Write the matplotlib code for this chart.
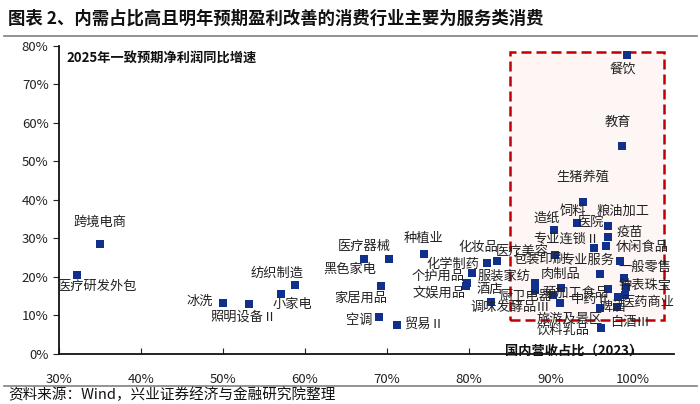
import matplotlib
matplotlib.use("Agg")
import matplotlib.pyplot as plt
from matplotlib.patches import Rectangle
from matplotlib.ticker import FuncFormatter

plt.rcParams['font.family'] = ['Noto Sans CJK SC', 'DejaVu Sans']

# 行业：国内营收占比(2023, %)，2025年一致预期净利润同比增速(%)
industries = [
    '医疗研发外包', '跨境电商', '冰洗', '照明设备Ⅱ', '小家电', '纺织制造',
    '黑色家电', '医疗器械', '家居用品', '空调', '贸易Ⅱ', '种植业',
    '化学制药', '个护用品', '文娱用品', '化妆品', '医疗美容', '酒店',
    '调味发酵品Ⅲ', '服装家纺', '肉制品', '预加工食品', '厨卫电器', '旅游及景区',
    '专业服务', '一般零售', '钟表珠宝', '中药Ⅱ', '啤酒', '医药商业',
    '白酒Ⅲ', '饮料乳品', '包装印刷', '休闲食品', '专业连锁Ⅱ', '疫苗',
    '粮油加工', '医院', '饲料', '造纸', '生猪养殖', '餐饮', '教育',
]
domestic_share = [
    32.2, 35.0, 50.0, 53.2, 57.1, 58.8,
    67.2, 70.2, 69.3, 69.0, 71.2, 74.5,
    80.4, 79.8, 79.6, 82.2, 83.4, 82.7,
    88.0, 88.0, 91.2, 97.0, 90.2, 91.1,
    96.0, 98.9, 99.1, 96.0, 98.2, 99.0,
    98.0, 96.1, 90.5, 98.4, 95.2, 96.7,
    97.0, 97.0, 93.2, 90.4, 93.9, 99.3, 98.7,
]
profit_growth = [
    20.6, 28.6, 13.3, 13.0, 15.6, 18.0,
    24.7, 24.7, 17.7, 9.6, 7.6, 26.0,
    21.1, 18.5, 17.7, 23.7, 24.2, 13.5,
    16.7, 18.5, 17.2, 16.9, 15.4, 13.3,
    20.8, 19.8, 17.4, 12.0, 14.8, 15.4,
    12.2, 6.8, 25.8, 24.2, 27.6, 28.1,
    30.5, 33.3, 33.9, 32.3, 39.6, 77.6, 53.9,
]
# label offsets (pixels) relative to the point
label_dx = [
    20, 0, -23, -6, 11, -18,
    -14, -24, -21, -20, 27, 0,
    -19, -29, -27, -9, 25, -1,
    -24, -31, 0, -33, -27, 10,
    -13, 21, 19, -10, -6, 23,
    13, -38, -15, 22, -27, 24,
    15, -17, -4, -8, 0, -5, -5,
]
label_dy = [
    -12, 22, 1, -13, -11, 11,
    -11, 12, -12, -3, 1, 15,
    8, 6, -7, 15, 10, 13,
    -18, 6, 13, -4, -2, -17,
    14, 10, 2, 8, -10, -8,
    -15, -2, -5, 13, 8, 13,
    25, 3, 12, 11, 24, -14, 24,
]

# 红框：内需占比高、盈利改善区域
box_x = (85.0, 103.8)
box_y = (8.85, 78.4)

fig = plt.figure(figsize=(7, 4.04), dpi=100)
ax = fig.add_axes([0.0843, 0.1238, 0.8787, 0.7624])

ax.add_patch(Rectangle((box_x[0], box_y[0]), box_x[1] - box_x[0], box_y[1] - box_y[0],
                       facecolor='#fdf6f4', edgecolor='#c00000', linestyle=(0, (4, 2)),
                       linewidth=1.8, zorder=1))

ax.scatter(domestic_share, profit_growth, marker='s', s=34, color='#10308c',
           linewidths=0, zorder=3)

for name, x, y, dx, dy in zip(industries, domestic_share, profit_growth, label_dx, label_dy):
    ax.annotate(name, (x, y), xytext=(dx, dy), textcoords='offset pixels',
                ha='center', va='center', fontsize=9.5, color='#222222', zorder=4)

ax.set_xlim(30, 105)
ax.set_ylim(0, 80)
ax.set_xticks(range(30, 101, 10))
ax.set_yticks(range(0, 81, 10))
pct = FuncFormatter(lambda v, _: f'{v:.0f}%')
ax.xaxis.set_major_formatter(pct)
ax.yaxis.set_major_formatter(pct)
ax.tick_params(axis='x', direction='in', length=4, labelsize=9.5, pad=14, colors='#222222')
ax.tick_params(axis='y', direction='out', length=4, labelsize=9.5, colors='#222222')
for side in ['top', 'right']:
    ax.spines[side].set_visible(False)
for side in ['left', 'bottom']:
    ax.spines[side].set_linewidth(1.3)
    ax.spines[side].set_color('#111111')

ax.text(0.012, 0.96, '2025年一致预期净利润同比增速', transform=ax.transAxes,
        fontsize=9.5, fontweight='bold', ha='left', va='center', color='#111111')
ax.text(0.836, 0.012, '国内营收占比（2023）', transform=ax.transAxes,
        fontsize=9.5, fontweight='bold', ha='center', va='center', color='#111111')

# 标题与来源
fig.text(0.012, 0.955, '图表 2、内需占比高且明年预期盈利改善的消费行业主要为服务类消费',
         fontsize=12.5, fontweight='bold', ha='left', va='center', color='#111111')
fig.add_artist(plt.Line2D([0.005, 0.995], [0.91, 0.91], color='#808080', linewidth=1.2))
fig.add_artist(plt.Line2D([0.005, 0.995], [0.045, 0.045], color='#808080', linewidth=1.2))
fig.text(0.012, 0.022, '资料来源：Wind，兴业证券经济与金融研究院整理',
         fontsize=10.5, ha='left', va='center', color='#111111')

fig.savefig('out.png', dpi=100)
